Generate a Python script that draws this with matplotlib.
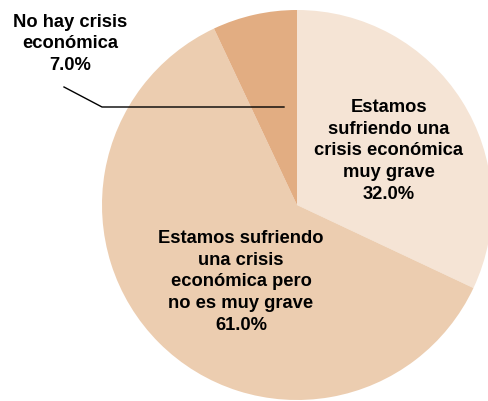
import matplotlib.pyplot as plt

labels = ["Estamos\nsufriendo una\ncrisis económica\nmuy grave",
          "Estamos sufriendo\nuna crisis\neconómica pero\nno es muy grave",
          "No hay crisis\neconómica"]
values = [32.0, 61.0, 7.0]
colors = ["#F5E4D5", "#ECCDB0", "#E2AD82"]

W, H = 489, 401
fig = plt.figure(figsize=(W / 100, H / 100), dpi=100)
ax = fig.add_axes([0, 0, 1, 1])

cx, cy, r = 297, H - 205, 195
ax.pie(values, colors=colors, startangle=90, counterclock=False,
       center=(cx, cy), radius=r, frame=True,
       wedgeprops=dict(linewidth=0))
ax.set_xlim(0, W)
ax.set_ylim(0, H)
ax.set_aspect("equal")
ax.axis("off")

font = dict(family=["Liberation Sans", "DejaVu Sans"], fontsize=13.2,
            fontweight="bold", ha="center", va="center", linespacing=1.36)

ax.text(389, H - 151, f"{labels[0]}\n{values[0]:.1f}%", **font)
ax.text(241, H - 282, f"{labels[1]}\n{values[1]:.1f}%", **font)
ax.text(70, H - 44, f"{labels[2]}\n{values[2]:.1f}%", **font)

ax.plot([64, 102, 284], [H - 87, H - 107, H - 107], color="black", lw=1)

fig.savefig("out.png", dpi=100)
